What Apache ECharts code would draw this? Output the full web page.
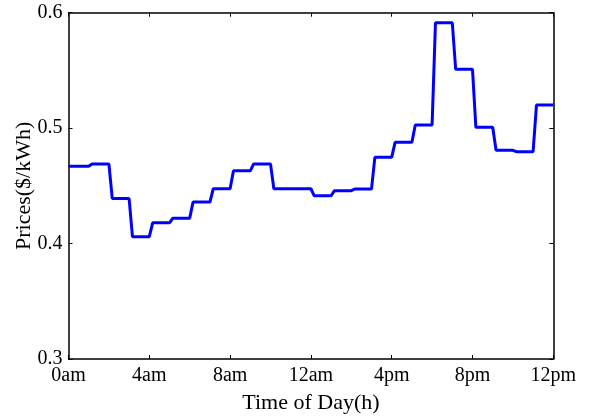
<!DOCTYPE html>
<html>
<head>
<meta charset="utf-8">
<script src="https://cdn.jsdelivr.net/npm/echarts@6/dist/echarts.min.js"></script>
<style>
html,body{margin:0;padding:0;background:#fff;}
#chart{width:593px;height:419px;}
</style>
</head>
<body>
<div id="chart"></div>
<script>
// Hourly price values ($/kWh), hour 0..23
var hours = [0,1,2,3,4,5,6,7,8,9,10,11,12,13,14,15,16,17,18,19,20,21,22,23];
var prices = [0.467, 0.469, 0.439, 0.406, 0.418, 0.422, 0.436, 0.4475, 0.463, 0.469, 0.4475, 0.4475,
              0.4414, 0.4458, 0.4472, 0.4747, 0.4877, 0.5027, 0.5913, 0.551, 0.5007, 0.4808, 0.4796, 0.520];
var xTickLabels = ['0am','4am','8am','12am','4pm','8pm','12pm'];
var yTicks = [0.3, 0.4, 0.5, 0.6];

var rampLen = 1/6; // transition duration in hours
var lineData = [];
hours.forEach(function(h, i){
  var start = i === 0 ? h : h + rampLen;
  lineData.push([start, prices[i]]);
  lineData.push([h + 1, prices[i]]);
});

var font = 'Liberation Serif';
var chart = echarts.init(document.getElementById('chart'), null, {renderer:'canvas'});
var axisLine = {show:true, onZero:false, lineStyle:{color:'#000', width:1.5}};
var axisTick = {show:true, inside:true, length:4, lineStyle:{color:'#000', width:1}};
chart.setOption({
  animation:false,
  backgroundColor:'#fff',
  grid:{left:68.5, right:39.7, top:12.7, bottom:60, containLabel:false},
  xAxis:[{
    type:'value', min:0, max:24, interval:4, position:'bottom',
    axisLine:axisLine, axisTick:axisTick, splitLine:{show:false},
    axisLabel:{color:'#000', fontFamily:font, fontSize:20, margin:7,
      formatter:function(v){ return xTickLabels[Math.round(v/4)]; }},
    name:'Time of Day(h)', nameLocation:'middle', nameGap:33,
    nameTextStyle:{color:'#000', fontFamily:font, fontSize:22}
  },{
    type:'value', min:0, max:24, interval:4, position:'top',
    axisLine:axisLine, axisTick:axisTick, axisLabel:{show:false}, splitLine:{show:false}
  }],
  yAxis:[{
    type:'value', min:0.3, max:0.6, interval:0.1, position:'left',
    axisLine:axisLine, axisTick:axisTick, splitLine:{show:false},
    axisLabel:{color:'#000', fontFamily:font, fontSize:20, margin:6,
      formatter:function(v){ return v.toFixed(1); }},
    name:'Prices($/kWh)', nameLocation:'middle', nameGap:33, nameMoveOverlap:false,
    nameTextStyle:{color:'#000', fontFamily:font, fontSize:22}
  },{
    type:'value', min:0.3, max:0.6, interval:0.1, position:'right',
    axisLine:axisLine, axisTick:axisTick, axisLabel:{show:false}, splitLine:{show:false}
  }],
  series:[{
    type:'line', xAxisIndex:0, yAxisIndex:0, data:lineData,
    showSymbol:false, symbol:'none',
    lineStyle:{color:'#0000ff', width:3},
    clip:false
  }]
});
</script>
</body>
</html>
